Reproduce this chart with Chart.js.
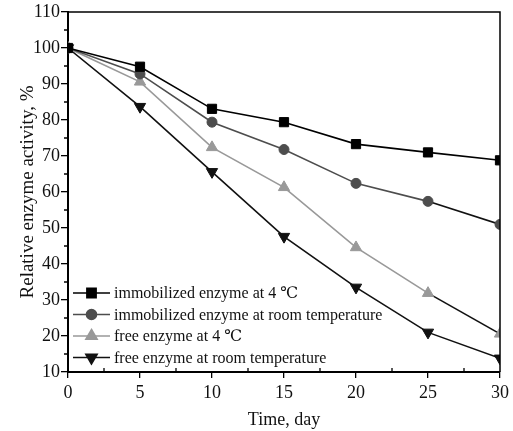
<!DOCTYPE html>
<html>
<head>
<meta charset="utf-8">
<script src="https://cdn.jsdelivr.net/npm/chart.js@4.4.0/dist/chart.umd.min.js"></script>
<style>
  html, body { margin: 0; padding: 0; background: #fff; }
  #wrap { width: 513px; height: 431px; }
</style>
</head>
<body>
<div id="wrap"><canvas id="myChart" width="513" height="431"></canvas></div>
<script>
const days = [0, 5, 10, 15, 20, 25, 30]
const immob4 = [100, 94.8, 83.1, 79.4, 73.3, 71.0, 68.8]
const immobRoom = [100, 92.8, 79.4, 71.8, 62.4, 57.4, 51.0]
const free4 = [100, 90.6, 72.4, 61.3, 44.6, 31.9, 20.6]
const freeRoom = [100, 83.7, 65.6, 47.6, 33.5, 21.0, 13.8]
const seriesNames = [
    'immobilized enzyme at 4 \u2103',
    'immobilized enzyme at room temperature',
    'free enzyme at 4 \u2103',
    'free enzyme at room temperature'
]

const serif = "'Liberation Serif', 'DejaVu Serif', serif"

function pts(arr) {
    return arr.map((v, i) => ({ x: days[i], y: v }))
}

// last segment of the grey series is drawn black in the original
const lastBlack = (col) => ({
    borderColor: c => c.p0DataIndex === 5 ? '#111' : col
})

const datasets = [
    { label: seriesNames[0], data: pts(immob4), color: '#000', pointStyle: 'rect', pointRadius: 6.5, pointRotation: 0 },
    { label: seriesNames[1], data: pts(immobRoom), color: '#4d4d4d', pointStyle: 'circle', pointRadius: 5, pointRotation: 0, segment: lastBlack('#4d4d4d') },
    { label: seriesNames[2], data: pts(free4), color: '#999', pointStyle: 'triangle', pointRadius: 6.5, pointRotation: 0, segment: lastBlack('#999') },
    { label: seriesNames[3], data: pts(freeRoom), color: '#111', pointStyle: 'triangle', pointRadius: 6.5, pointRotation: 180 }
].map(d => Object.assign(d, {
    borderColor: d.color,
    backgroundColor: d.color,
    pointBackgroundColor: d.color,
    pointBorderColor: d.color,
    pointBorderWidth: 1,
    borderWidth: 1.6,
    tension: 0
}))

const extras = {
    id: 'extras',
    afterDraw(chart) {
        const ctx = chart.ctx
        const a = chart.chartArea
        const xs = chart.scales.x, ys = chart.scales.y
        ctx.save()
        ctx.strokeStyle = '#000'
        // frame top and right
        ctx.lineWidth = 1.5
        ctx.beginPath()
        ctx.moveTo(a.left, a.top)
        ctx.lineTo(a.right, a.top)
        ctx.lineTo(a.right, a.bottom)
        ctx.stroke()
        // minor ticks
        ctx.lineWidth = 1.3
        ctx.beginPath()
        for (let v = 2.5; v < 30; v += 5) {
            const x = xs.getPixelForValue(v)
            ctx.moveTo(x, a.bottom)
            ctx.lineTo(x, a.bottom - 4)
        }
        for (let v = 15; v < 110; v += 10) {
            const y = ys.getPixelForValue(v)
            ctx.moveTo(a.left, y)
            ctx.lineTo(a.left - 4, y)
        }
        ctx.stroke()
        // legend
        ctx.font = '16px ' + serif
        ctx.textBaseline = 'middle'
        chart.data.datasets.forEach((d, i) => {
            const y = a.bottom - 79 + i * 21.5
            const x0 = a.left + 5
            ctx.strokeStyle = d.color
            ctx.lineWidth = 1.6
            ctx.beginPath()
            ctx.moveTo(x0, y)
            ctx.lineTo(x0 + 37, y)
            ctx.stroke()
            ctx.fillStyle = d.color
            Chart.helpers.drawPoint(ctx, {
                pointStyle: d.pointStyle,
                radius: d.pointRadius,
                rotation: d.pointRotation,
                borderWidth: 1
            }, x0 + 18.5, y)
            ctx.fillStyle = '#111'
            ctx.fillText(d.label, x0 + 41, y + 1)
        })
        ctx.restore()
    }
}

const ctxA = document.getElementById('myChart').getContext('2d')
const myChart = new Chart(ctxA, {
    type: 'line',
    data: { datasets: datasets },
    options: {
        responsive: false,
        animation: false,
        layout: { padding: { top: 12, right: 12, left: 0, bottom: 0 } },
        plugins: { legend: { display: false }, tooltip: { enabled: false } },
        scales: {
            x: {
                type: 'linear',
                min: 0, max: 30,
                afterFit: s => { s.height = 59 },
                ticks: { stepSize: 5, color: '#111', font: { family: serif, size: 18 }, padding: 4 },
                grid: { drawOnChartArea: false, drawTicks: true, tickLength: 6, color: '#000', lineWidth: 1.3 },
                border: { color: '#000', width: 2 },
                title: { display: true, text: 'Time, day', color: '#111', font: { family: serif, size: 18 }, padding: { top: 4, bottom: 0 } }
            },
            y: {
                min: 10, max: 110,
                afterFit: s => { s.width = 68 },
                ticks: { stepSize: 10, color: '#111', font: { family: serif, size: 18 }, padding: 1 },
                grid: { drawOnChartArea: false, drawTicks: true, tickLength: 7, color: '#000', lineWidth: 1.3 },
                border: { color: '#000', width: 2 },
                title: { display: true, text: 'Relative enzyme activity, %', color: '#111', font: { family: serif, size: 19 }, padding: { top: 17, bottom: 0 } }
            }
        }
    },
    plugins: [extras]
})
</script>
</body>
</html>
